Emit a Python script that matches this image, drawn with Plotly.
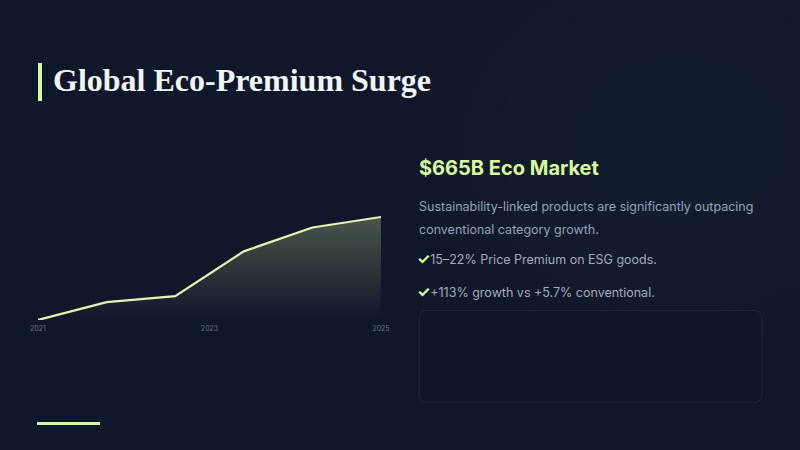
import plotly.graph_objects as go

# market size (USD billions) along the period
years = [2021, 2021.8, 2022.6, 2023.4, 2024.2, 2025]
market = [320, 380, 400, 550, 630, 665]
tick_years = [2021, 2023, 2025]

title = "Global Eco-Premium Surge"
headline = "$665B Eco Market"
body_lines = ["Sustainability-linked products are significantly outpacing",
              "conventional category growth."]
bullets = ["15–22% Price Premium on ESG goods.",
           "+113% growth vs +5.7% conventional."]

lime = "#d9f99d"
bg = "#0f172a"

fig = go.Figure()

fig.add_trace(go.Scatter(
    x=years, y=market, mode="lines",
    line=dict(color="#e2f5b0", width=2.2),
    fill="tozeroy",
    fillgradient=dict(type="vertical", start=320, stop=665,
                      colorscale=[[0, "rgba(217,249,157,0)"],
                                  [1, "rgba(217,249,157,0.28)"]]),
    hoverinfo="skip", showlegend=False))

shapes = []
# soft glow in the upper right of the slide
for i, r in enumerate([260, 220, 180, 140, 100]):
    shapes.append(dict(type="circle", xref="paper", yref="paper",
                       x0=(680 - r) / 800, x1=(680 + r) / 800,
                       y0=1 - (140 + r * 0.8) / 450, y1=1 - (140 - r * 0.8) / 450,
                       fillcolor="rgba(40,50,72,0.06)", line=dict(width=0),
                       layer="below"))
# accent bar next to the title
shapes.append(dict(type="rect", xref="paper", yref="paper",
                   x0=38 / 800, x1=42 / 800, y0=1 - 101 / 450, y1=1 - 63 / 450,
                   fillcolor=lime, line=dict(width=0)))
# underline at the bottom
shapes.append(dict(type="rect", xref="paper", yref="paper",
                   x0=37 / 800, x1=100 / 800, y0=1 - 425 / 450, y1=1 - 422 / 450,
                   fillcolor=lime, line=dict(width=0)))
# empty card on the right
shapes.append(dict(type="path", xref="paper", yref="paper",
                   path="M 0.534,0.31 L 0.9425,0.31 Q 0.9525,0.31 0.9525,0.29 "
                        "L 0.9525,0.125 Q 0.9525,0.105 0.9425,0.105 L 0.534,0.105 "
                        "Q 0.524,0.105 0.524,0.125 L 0.524,0.29 Q 0.524,0.31 0.534,0.31 Z",
                   fillcolor="rgba(15,22,42,0.6)",
                   line=dict(color="rgba(51,65,85,0.45)", width=1)))

annotations = [
    dict(text="<b>" + title + "</b>", x=51 / 800, y=1 - 80 / 450,
         xanchor="left", yanchor="middle",
         font=dict(family="Liberation Serif", size=32, color="#f1f5f9")),
    dict(text="<b>" + headline + "</b>", x=417 / 800, y=1 - 168 / 450,
         xanchor="left", yanchor="middle",
         font=dict(family="Inter", size=20, color=lime)),
]
for i, line in enumerate(body_lines):
    annotations.append(dict(text=line, x=417 / 800, y=1 - (206 + 24 * i) / 450,
                            xanchor="left", yanchor="middle",
                            font=dict(family="Inter", size=12.5, color="#94a3b8")))
for i, b in enumerate(bullets):
    annotations.append(dict(
        text='<span style="color:%s;font-size:15px"><b>✓</b></span>%s' % (lime, b),
        x=415 / 800, y=1 - (258 + 33 * i) / 450,
        xanchor="left", yanchor="middle",
        font=dict(family="Inter", size=12.5, color="#a3acbb")))
for a in annotations:
    a.update(xref="paper", yref="paper", showarrow=False)

fig.update_layout(
    width=800, height=450,
    margin=dict(l=0, r=0, t=0, b=0, autoexpand=False),
    paper_bgcolor=bg, plot_bgcolor="rgba(0,0,0,0)",
    shapes=shapes, annotations=annotations,
    xaxis=dict(domain=[38 / 800, 381 / 800], range=[2021, 2025],
               tickvals=tick_years, ticktext=[str(t) for t in tick_years],
               showgrid=False, zeroline=False, showline=False,
               automargin=False, ticklabelstandoff=3,
               tickfont=dict(family="Inter", size=7, color="#64748b")),
    yaxis=dict(domain=[1 - 320 / 450, 1 - 200 / 450], range=[320, 722],
               visible=False, showgrid=False, zeroline=False, automargin=False),
)

fig.write_html("out.html",
               config={"displayModeBar": False, "responsive": False},
               post_script="document.body.style.margin='0';"
                           "document.body.style.overflow='hidden';")
